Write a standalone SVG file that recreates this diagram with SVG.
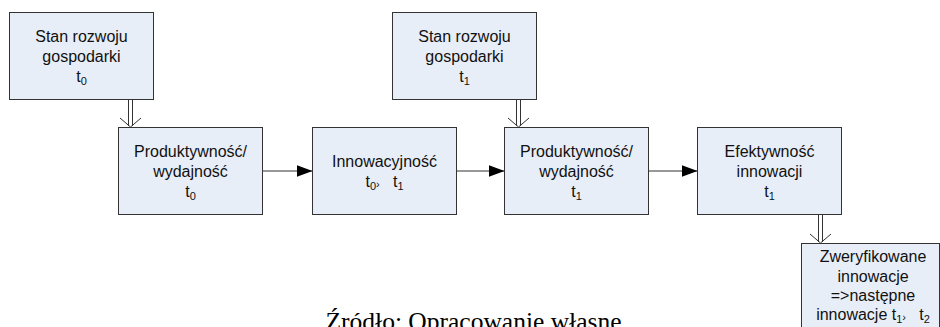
<svg xmlns="http://www.w3.org/2000/svg" width="940" height="327" viewBox="0 0 940 327">
<defs>
<style>
.box{fill:#E8EEF7;stroke:#333;stroke-width:1}
.t{font-family:"Liberation Sans",Arial,sans-serif;font-size:16px;fill:#111;text-anchor:middle}
.s{font-size:11px}
.ln{stroke:#333;stroke-width:1.2;fill:none}
.dl{stroke:#333;stroke-width:1;fill:none}
</style>
<marker id="ah" markerWidth="16" markerHeight="12" refX="16" refY="6" orient="auto" markerUnits="userSpaceOnUse">
<path d="M0,0 L16,6 L0,12 Z" fill="#000"/>
</marker>
</defs>
<rect width="940" height="327" fill="#fff"/>
<g id="n1"><rect class="box" x="9.5" y="12.5" width="144" height="87"/>
<text class="t" x="81.5" y="42">Stan rozwoju</text>
<text class="t" x="81.5" y="62">gospodarki</text>
<text class="t" x="81.5" y="82">t<tspan class="s" dy="3">0</tspan></text></g>
<g id="n2"><rect class="box" x="118.5" y="127.5" width="144" height="87"/>
<text class="t" x="190.5" y="157">Produktywność/</text>
<text class="t" x="190.5" y="177">wydajność</text>
<text class="t" x="190.5" y="197">t<tspan class="s" dy="3">0</tspan></text></g>
<g id="n3"><rect class="box" x="312.5" y="127.5" width="144" height="87"/>
<text class="t" x="384.5" y="167">Innowacyjność</text>
<text class="t" x="384.5" y="187" xml:space="preserve">t<tspan class="s" dy="3">0</tspan><tspan class="s" dy="-2">›</tspan><tspan dy="-1">   t</tspan><tspan class="s" dy="3">1</tspan></text></g>
<g id="n4"><rect class="box" x="392.5" y="12.5" width="144" height="87"/>
<text class="t" x="464.5" y="42">Stan rozwoju</text>
<text class="t" x="464.5" y="62">gospodarki</text>
<text class="t" x="464.5" y="82">t<tspan class="s" dy="3">1</tspan></text></g>
<g id="n5"><rect class="box" x="504.5" y="127.5" width="144" height="87"/>
<text class="t" x="576.5" y="157">Produktywność/</text>
<text class="t" x="576.5" y="177">wydajność</text>
<text class="t" x="576.5" y="197">t<tspan class="s" dy="3">1</tspan></text></g>
<g id="n6"><rect class="box" x="697.5" y="127.5" width="144" height="87"/>
<text class="t" x="769.5" y="157">Efektywność</text>
<text class="t" x="769.5" y="177">innowacji</text>
<text class="t" x="769.5" y="197">t<tspan class="s" dy="3">1</tspan></text></g>
<g id="n7"><rect class="box" x="801.5" y="243.5" width="138" height="100"/>
<text class="t" x="873" y="262">Zweryfikowane</text>
<text class="t" x="873" y="281.5">innowacje</text>
<text class="t" x="873" y="301">=&gt;następne</text>
<text class="t" x="873" y="320" xml:space="preserve">innowacje t<tspan class="s" dy="3">1</tspan><tspan class="s" dy="-2">›</tspan><tspan dy="-1">   t</tspan><tspan class="s" dy="3">2</tspan></text></g>
<g id="connectors">
<line class="ln" x1="262.5" y1="171" x2="312.5" y2="171" marker-end="url(#ah)"/>
<line class="ln" x1="456.5" y1="171" x2="504.5" y2="171" marker-end="url(#ah)"/>
<line class="ln" x1="648.5" y1="171" x2="697.5" y2="171" marker-end="url(#ah)"/>
<path class="dl" d="M128.5,99.5 V126 M132.5,99.5 V126 M120,118 L130.5,127 L141,118"/>
<path class="dl" d="M516.5,99.5 V126 M520.5,99.5 V126 M508,118 L518.5,127 L529,118"/>
<path class="dl" d="M818.5,214.5 V242 M822.5,214.5 V242 M810,234 L820.5,243 L831,234"/>
</g>
<text x="473.5" y="330" font-family="'Liberation Serif','Times New Roman',serif" font-size="25.5" fill="#000" text-anchor="middle">Źródło: Opracowanie własne</text>
</svg>
